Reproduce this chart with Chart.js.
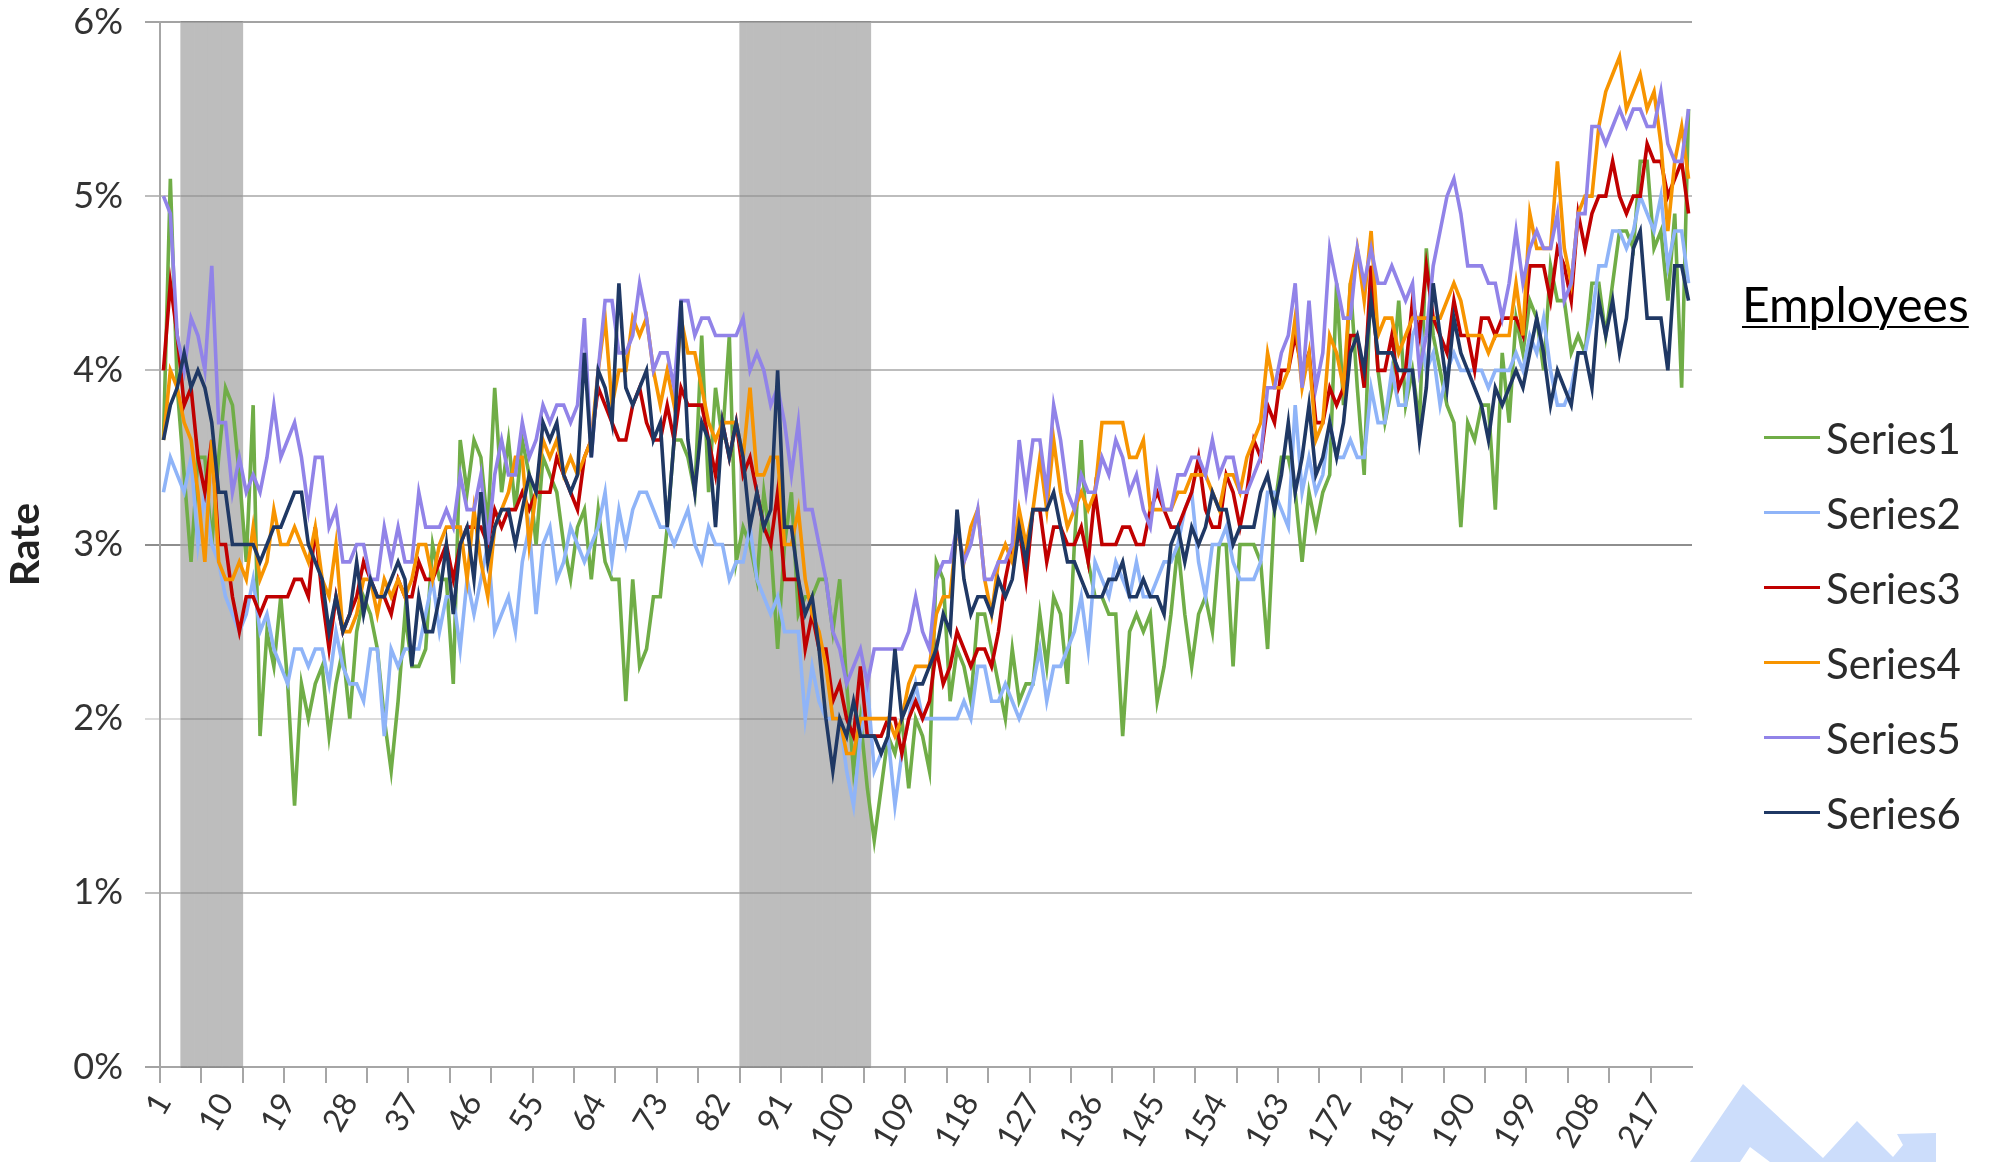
<!DOCTYPE html>
<html>
<head>
<meta charset="utf-8">
<title>Rate by employees</title>
<script src="https://cdn.jsdelivr.net/npm/chart.js@4"></script>
<style>
  html, body { margin: 0; padding: 0; background: #fff; }
  #wrap { position: relative; width: 1990px; height: 1162px; overflow: hidden; font-family: Lato, sans-serif; }
  #grafico { position: absolute; left: 0; top: 0; }
  #logo { position: absolute; left: 0; top: 0; }
  #legendTitle { position: absolute; left: 1742px; top: 276px; font-size: 48px; line-height: 56px; color: #000; text-decoration: underline; text-decoration-thickness: 2px; text-underline-offset: 4px; }
  .legendRow { position: absolute; left: 1764px; height: 44px; line-height: 44px; font-size: 42px; color: #2b2b2b; white-space: nowrap; }
  .legendRow i { position: absolute; left: 0; top: 20px; width: 56px; height: 3px; }
  .legendRow span { position: absolute; left: 62px; }
</style>
</head>
<body>
<div id="wrap">
  <svg id="logo" width="1990" height="1162"><path fill="#CCDDFB" d="M1690 1162L1743 1084L1823 1158L1857 1121L1893 1157L1903 1145L1897 1134L1936 1133L1936 1162L1770 1162L1750 1147L1740 1162Z"/></svg>
  <canvas id="grafico" width="1990" height="1162"></canvas>
  <div id="legendTitle">Employees</div>
  <div id="legenda"></div>
</div>
<script>
const categories = Array.from({ length: 222 }, (_, i) => i + 1);
const xTickLabels = [1, 10, 19, 28, 37, 46, 55, 64, 73, 82, 91, 100, 109, 118, 127, 136, 145, 154, 163, 172, 181, 190, 199, 208, 217];
const yTicks = [0, 1, 2, 3, 4, 5, 6];
const shadedRanges = [[4, 12], [85, 103]];
const seriesNames = ["Series1", "Series2", "Series3", "Series4", "Series5", "Series6"];
const seriesColors = ["#70AD47", "#8FB4F8", "#C00000", "#F79400", "#9183E8", "#1F3864"];

const series1 = [
  3.6,5.1,3.9,3.4,2.9,3.5,3.5,3.0,3.5,3.9, 3.8,3.4,2.9,3.8,1.9,2.5,2.3,2.7,2.2,1.5,
  2.2,2.0,2.2,2.3,1.9,2.2,2.4,2.0,2.5,2.7, 2.6,2.4,2.0,1.7,2.1,2.6,2.3,2.3,2.4,3.0,
  2.8,2.8,2.2,3.6,3.3,3.6,3.5,3.1,3.9,3.3, 3.6,3.2,3.6,3.4,3.0,3.5,3.4,3.3,3.0,2.8,
  3.1,3.2,2.8,3.2,2.9,2.8,2.8,2.1,2.8,2.3, 2.4,2.7,2.7,3.1,3.6,3.6,3.5,3.3,4.2,3.3,
  3.9,3.6,4.2,2.9,3.1,3.0,2.8,3.3,3.0,2.4, 3.0,3.3,2.6,2.7,2.7,2.8,2.8,2.5,2.8,2.2,
  1.7,2.0,1.6,1.3,1.6,1.9,1.8,2.0,1.6,2.0, 1.9,1.7,2.9,2.8,2.1,2.4,2.3,2.1,2.6,2.6,
  2.4,2.2,2.0,2.4,2.1,2.2,2.2,2.6,2.3,2.7, 2.6,2.2,3.0,3.6,2.9,2.7,2.7,2.6,2.6,1.9,
  2.5,2.6,2.5,2.6,2.1,2.3,2.6,3.0,2.6,2.3, 2.6,2.7,2.5,3.0,3.0,2.3,3.0,3.0,3.0,2.9,
  2.4,3.2,3.5,3.5,3.3,2.9,3.3,3.1,3.3,3.4, 4.5,3.8,4.5,3.9,3.4,4.6,4.0,3.7,3.9,4.4,
  3.8,4.0,3.7,4.7,4.2,4.0,3.8,3.7,3.1,3.7, 3.6,3.8,3.8,3.2,4.1,3.7,4.3,4.1,4.4,4.3,
  4.0,4.6,4.4,4.4,4.1,4.2,4.1,4.5,4.5,4.2, 4.5,4.8,4.8,4.7,5.2,5.2,4.7,4.8,4.4,4.9,
  3.9,5.5
];
const series2 = [
  3.3,3.5,3.4,3.3,3.5,3.0,3.3,3.0,2.9,2.7, 2.6,2.5,2.6,2.8,2.5,2.6,2.4,2.3,2.2,2.4,
  2.4,2.3,2.4,2.4,2.2,2.5,2.3,2.2,2.2,2.1, 2.4,2.4,1.9,2.4,2.3,2.4,2.4,2.4,2.6,2.8,
  2.5,2.7,2.7,2.4,2.8,2.6,2.8,3.0,2.5,2.6, 2.7,2.5,2.9,3.1,2.6,3.0,3.1,2.8,2.9,3.1,
  3.0,2.9,3.0,3.1,3.3,2.9,3.2,3.0,3.2,3.3, 3.3,3.2,3.1,3.1,3.0,3.1,3.2,3.0,2.9,3.1,
  3.0,3.0,2.8,2.9,2.9,3.1,2.8,2.7,2.6,2.7, 2.5,2.5,2.5,2.0,2.3,2.1,2.0,2.0,2.0,1.7,
  1.5,1.9,2.2,1.7,1.8,1.9,1.5,1.8,2.0,2.2, 2.0,2.0,2.0,2.0,2.0,2.0,2.1,2.0,2.3,2.3,
  2.1,2.1,2.2,2.1,2.0,2.1,2.2,2.4,2.1,2.3, 2.3,2.4,2.5,2.7,2.4,2.9,2.8,2.7,2.9,2.8,
  2.7,2.9,2.7,2.7,2.8,2.9,2.9,3.0,3.2,3.3, 2.9,2.7,3.0,3.0,3.1,2.9,2.8,2.8,2.8,2.9,
  3.3,3.3,3.2,3.1,3.8,3.3,3.5,3.3,3.4,3.7, 3.5,3.5,3.6,3.5,3.5,3.9,3.7,3.7,4.0,3.8,
  3.8,4.2,4.3,4.0,4.1,3.8,4.0,4.1,4.0,4.0, 4.0,4.0,3.9,4.0,4.0,4.0,4.1,4.0,4.2,4.1,
  4.3,4.0,3.8,3.8,3.9,4.1,4.1,4.3,4.6,4.6, 4.8,4.8,4.7,4.8,5.0,4.9,4.8,5.0,4.6,4.8,
  4.8,4.5
];
const series3 = [
  4.0,4.5,4.2,3.8,3.9,3.5,3.3,3.6,3.0,3.0, 2.7,2.5,2.7,2.7,2.6,2.7,2.7,2.7,2.7,2.8,
  2.8,2.7,3.1,2.7,2.4,2.7,2.5,2.6,2.7,2.9, 2.8,2.7,2.7,2.6,2.8,2.7,2.7,2.9,2.8,2.8,
  2.9,3.0,2.8,3.0,3.1,3.1,3.1,3.0,3.2,3.1, 3.2,3.2,3.3,3.2,3.3,3.3,3.3,3.5,3.4,3.3,
  3.2,3.5,3.6,3.9,3.8,3.7,3.6,3.6,3.8,3.9, 3.7,3.6,3.6,3.8,3.6,3.9,3.8,3.8,3.8,3.6,
  3.4,3.7,3.5,3.7,3.4,3.5,3.3,3.1,3.0,3.3, 2.8,2.8,2.8,2.4,2.6,2.4,2.4,2.1,2.2,2.0,
  1.9,2.3,1.9,1.9,1.9,2.0,2.0,1.8,2.0,2.1, 2.0,2.1,2.4,2.2,2.3,2.5,2.4,2.3,2.4,2.4,
  2.3,2.5,2.8,3.0,3.1,2.8,3.2,3.2,2.9,3.1, 3.1,3.0,3.0,3.1,2.9,3.3,3.0,3.0,3.0,3.1,
  3.1,3.0,3.0,3.2,3.3,3.2,3.1,3.1,3.2,3.3, 3.5,3.2,3.1,3.1,3.4,3.3,3.1,3.3,3.6,3.5,
  3.8,3.7,4.0,4.0,4.2,4.0,4.1,3.7,3.7,3.9, 3.8,3.9,4.2,4.2,3.9,4.6,4.0,4.0,4.2,3.9,
  4.0,4.4,4.2,4.6,4.3,4.2,4.1,4.4,4.2,4.2, 4.0,4.3,4.3,4.2,4.3,4.3,4.3,4.2,4.6,4.6,
  4.6,4.4,4.7,4.6,4.4,4.9,4.7,4.9,5.0,5.0, 5.2,5.0,4.9,5.0,5.0,5.3,5.2,5.2,5.0,5.1,
  5.2,4.9
];
const series4 = [
  3.6,4.0,3.9,3.7,3.6,3.3,2.9,3.6,2.9,2.8, 2.8,2.9,2.8,3.1,2.8,2.9,3.2,3.0,3.0,3.1,
  3.0,2.9,3.1,2.8,2.7,3.0,2.5,2.5,2.6,2.8, 2.8,2.6,2.8,2.7,2.8,2.7,2.8,3.0,3.0,2.8,
  3.0,3.1,3.1,3.1,2.8,3.2,2.9,2.7,3.1,3.2, 3.3,3.5,3.5,3.0,3.3,3.6,3.5,3.6,3.4,3.5,
  3.4,3.5,3.6,4.0,4.3,3.8,4.0,4.0,4.3,4.2, 4.3,4.0,3.8,4.0,3.8,4.3,4.1,4.1,3.9,3.7,
  3.6,3.7,3.7,3.7,3.5,3.9,3.4,3.4,3.5,3.5, 3.0,3.0,3.2,2.8,2.6,2.5,2.3,2.0,2.0,1.8,
  1.8,2.0,2.0,2.0,2.0,2.0,1.9,2.0,2.2,2.3, 2.3,2.3,2.6,2.7,2.7,3.1,2.9,3.1,3.2,2.8,
  2.6,2.9,3.0,2.9,3.2,3.0,3.2,3.5,3.2,3.6, 3.3,3.1,3.2,3.3,3.2,3.3,3.7,3.7,3.7,3.7,
  3.5,3.5,3.6,3.2,3.2,3.2,3.2,3.3,3.3,3.4, 3.4,3.4,3.3,3.2,3.4,3.4,3.3,3.5,3.6,3.7,
  4.1,3.9,3.9,4.0,4.3,3.9,4.1,3.6,3.7,4.2, 4.1,3.9,4.5,4.7,4.4,4.8,4.2,4.3,4.3,4.1,
  4.2,4.3,4.3,4.3,4.3,4.3,4.4,4.5,4.4,4.2, 4.2,4.2,4.1,4.2,4.2,4.2,4.5,4.2,4.9,4.7,
  4.7,4.7,5.2,4.7,4.5,4.9,5.0,5.0,5.4,5.6, 5.7,5.8,5.5,5.6,5.7,5.5,5.6,5.3,4.8,5.2,
  5.4,5.1
];
const series5 = [
  5.0,4.9,4.2,4.0,4.3,4.2,4.0,4.6,3.7,3.7, 3.3,3.5,3.3,3.4,3.3,3.5,3.8,3.5,3.6,3.7,
  3.5,3.2,3.5,3.5,3.1,3.2,2.9,2.9,3.0,3.0, 2.8,2.8,3.1,2.9,3.1,2.9,2.9,3.3,3.1,3.1,
  3.1,3.2,3.1,3.4,3.2,3.2,3.4,3.0,3.4,3.6, 3.4,3.4,3.7,3.5,3.6,3.8,3.7,3.8,3.8,3.7,
  3.8,4.3,3.5,4.0,4.4,4.4,4.1,4.1,4.2,4.5, 4.3,4.0,4.1,4.1,3.9,4.4,4.4,4.2,4.3,4.3,
  4.2,4.2,4.2,4.2,4.3,4.0,4.1,4.0,3.8,3.9, 3.7,3.4,3.7,3.2,3.2,3.0,2.8,2.5,2.4,2.2,
  2.3,2.4,2.2,2.4,2.4,2.4,2.4,2.4,2.5,2.7, 2.5,2.4,2.8,2.9,2.9,3.1,2.9,3.0,3.2,2.8,
  2.8,2.9,2.9,3.0,3.6,3.3,3.6,3.6,3.3,3.8, 3.6,3.3,3.2,3.4,3.3,3.3,3.5,3.4,3.6,3.5,
  3.3,3.4,3.2,3.1,3.4,3.2,3.2,3.4,3.4,3.5, 3.5,3.4,3.6,3.4,3.5,3.5,3.3,3.3,3.4,3.5,
  3.9,3.9,4.1,4.2,4.5,3.9,4.4,3.9,4.1,4.7, 4.5,4.3,4.3,4.7,4.5,4.7,4.5,4.5,4.6,4.5,
  4.4,4.5,4.0,4.2,4.6,4.8,5.0,5.1,4.9,4.6, 4.6,4.6,4.5,4.5,4.3,4.5,4.8,4.5,4.7,4.8,
  4.7,4.7,4.9,4.4,4.5,4.9,4.9,5.4,5.4,5.3, 5.4,5.5,5.4,5.5,5.5,5.4,5.4,5.6,5.3,5.2,
  5.2,5.5
];
const series6 = [
  3.6,3.8,3.9,4.1,3.9,4.0,3.9,3.7,3.3,3.3, 3.0,3.0,3.0,3.0,2.9,3.0,3.1,3.1,3.2,3.3,
  3.3,3.0,2.9,2.8,2.5,2.7,2.5,2.6,2.9,2.6, 2.8,2.7,2.7,2.8,2.9,2.8,2.3,2.7,2.5,2.5,
  2.7,3.0,2.6,3.0,3.1,2.8,3.3,2.9,3.1,3.2, 3.2,3.0,3.2,3.4,3.3,3.7,3.6,3.7,3.4,3.3,
  3.4,4.1,3.5,4.0,3.9,3.7,4.5,3.9,3.8,3.9, 4.0,3.6,3.7,3.1,3.6,4.4,3.6,3.3,3.7,3.6,
  3.1,3.7,3.5,3.7,3.5,3.1,3.3,3.1,3.2,4.0, 3.1,3.1,2.8,2.6,2.7,2.4,2.0,1.7,2.0,1.9,
  2.1,1.9,1.9,1.9,1.8,1.9,2.4,2.0,2.1,2.2, 2.2,2.3,2.4,2.6,2.5,3.2,2.8,2.6,2.7,2.7,
  2.6,2.8,2.7,2.8,3.1,2.9,3.2,3.2,3.2,3.3, 3.1,2.9,2.9,2.8,2.7,2.7,2.7,2.8,2.8,2.9,
  2.7,2.7,2.8,2.7,2.7,2.6,3.0,3.1,2.9,3.1, 3.0,3.1,3.3,3.2,3.2,3.0,3.1,3.1,3.1,3.3,
  3.4,3.2,3.4,3.7,3.3,3.5,3.8,3.4,3.5,3.7, 3.5,3.7,4.1,4.2,4.0,4.4,4.1,4.1,4.1,4.0,
  4.0,4.0,3.6,3.9,4.5,4.2,3.9,4.3,4.1,4.0, 3.9,3.8,3.6,3.9,3.8,3.9,4.0,3.9,4.1,4.3,
  4.1,3.8,4.0,3.9,3.8,4.1,4.1,3.9,4.4,4.2, 4.4,4.1,4.3,4.7,4.8,4.3,4.3,4.3,4.0,4.6,
  4.6,4.4
];

const allSeries = [series1, series2, series3, series4, series5, series6];
const bandTop = yTicks[yTicks.length - 1];
const bandValues = categories.map((c) => shadedRanges.some(([a, b]) => c >= a && c <= b) ? bandTop : null);

// cores das linhas de grade, de 0% a 6%
const gridColors = ["#A3A3A3", "#BDBDBD", "#DCDCDC", "#8E8E8E", "#BDBDBD", "#BDBDBD", "#A3A3A3"];
const axisColor = "#A6A6A6";

// a faixa cinza fica por cima da grade, então escurece a grade dentro dela
const gradeSobreFaixa = {
  id: "gradeSobreFaixa",
  afterDatasetDraw(chart, args) {
    if (args.index !== 0) return;
    const { ctx, scales } = chart;
    const half = (scales.x.getPixelForValue(1) - scales.x.getPixelForValue(0)) / 2;
    ctx.save();
    ctx.lineWidth = 2;
    ctx.strokeStyle = "rgba(0,0,0,0.14)";
    shadedRanges.forEach(([a, b]) => {
      const x0 = scales.x.getPixelForValue(a - 1) - half;
      const x1 = scales.x.getPixelForValue(b - 1) + half;
      scales.y.ticks.forEach((t) => {
        const y = Math.round(scales.y.getPixelForValue(t.value));
        ctx.beginPath();
        ctx.moveTo(x0, y);
        ctx.lineTo(x1, y);
        ctx.stroke();
      });
    });
    ctx.restore();
  }
};

const datasets = [{
  type: "bar",
  label: "Band",
  data: bandValues,
  backgroundColor: "#BDBDBD",
  barPercentage: 1,
  categoryPercentage: 1,
  order: 10
}];
allSeries.forEach((values, i) => {
  datasets.push({
    type: "line",
    label: seriesNames[i],
    data: values,
    borderColor: seriesColors[i],
    backgroundColor: seriesColors[i],
    borderWidth: 3.6,
    pointRadius: 0,
    tension: 0,
    fill: false,
    order: 6 - i
  });
});

new Chart(document.getElementById("grafico"), {
  data: { labels: categories, datasets },
  plugins: [gradeSobreFaixa],
  options: {
    responsive: false,
    animation: false,
    layout: { padding: { left: 0, top: 22, right: 298, bottom: 0 } },
    plugins: { legend: { display: false }, tooltip: { enabled: false } },
    scales: {
      x: {
        type: "category",
        offset: true,
        afterFit(scale) {
          scale.height = 95;
          scale.paddingLeft = 0;
          scale.paddingRight = 0;
        },
        grid: {
          offset: true,
          drawOnChartArea: false,
          tickLength: 16,
          lineWidth: 2,
          tickColor: (c) => (c.index % 6 === 0 ? axisColor : "rgba(0,0,0,0)")
        },
        border: { color: axisColor, width: 2 },
        ticks: {
          autoSkip: false,
          minRotation: 60,
          maxRotation: 60,
          padding: 4,
          color: "#333",
          font: { family: "Lato", size: 32 },
          callback(value, index) {
            const label = categories[index];
            return xTickLabels.includes(label) ? String(label) : "";
          }
        }
      },
      y: {
        min: yTicks[0],
        max: yTicks[yTicks.length - 1],
        afterFit(scale) {
          scale.width = 160;
          scale.paddingTop = 0;
          scale.paddingBottom = 0;
        },
        afterBuildTicks(scale) {
          scale.ticks = yTicks.map((v) => ({ value: v }));
        },
        grid: {
          lineWidth: 2,
          tickLength: 15,
          color: (c) => gridColors[c.index]
        },
        border: { color: axisColor, width: 2 },
        title: {
          display: true,
          text: "Rate",
          color: "#222",
          font: { family: "Lato", size: 41, weight: "bold" },
          padding: { top: 1, bottom: 0 }
        },
        ticks: {
          padding: 22,
          color: "#333",
          font: { family: "Lato", size: 36 },
          callback: (v) => v + "%"
        }
      }
    }
  }
});

// Legenda
const legenda = document.getElementById("legenda");
seriesNames.forEach((name, i) => {
  const row = document.createElement("div");
  row.className = "legendRow";
  row.style.top = 416 + i * 75 + "px";
  row.innerHTML = `<i style="background:${seriesColors[i]}"></i><span>${name}</span>`;
  legenda.appendChild(row);
});
</script>
</body>
</html>
